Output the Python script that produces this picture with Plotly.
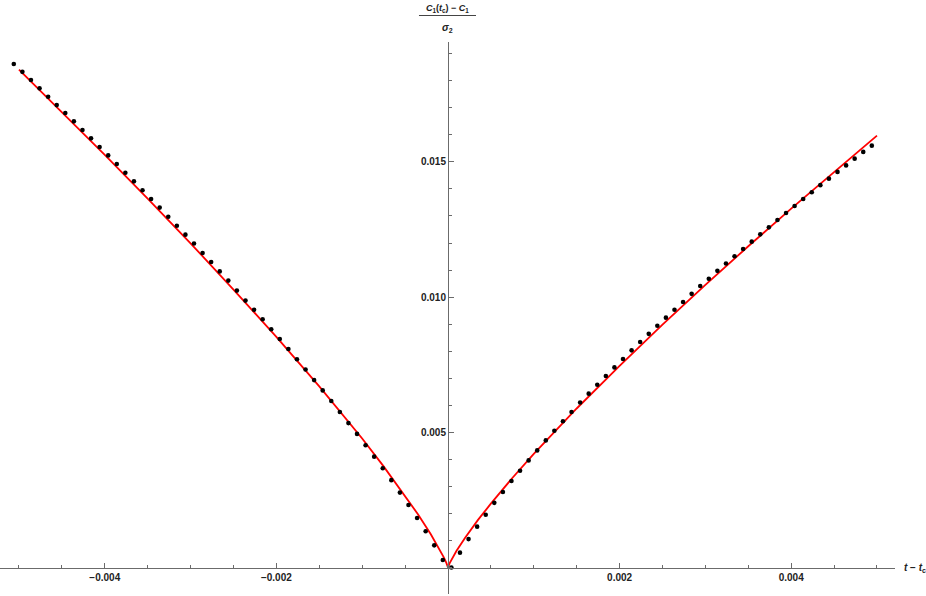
import plotly.graph_objects as go

# simulated points (t - t_c, value)
x_data = [
    -0.00506, -0.00496, -0.00486, -0.00476, -0.00466, -0.00456, -0.00446, -0.00436, -0.00426, -0.00416,
    -0.00406, -0.00396, -0.00386, -0.00376, -0.00366, -0.00356, -0.00346, -0.00336, -0.00326, -0.00316,
    -0.00306, -0.00296, -0.00286, -0.00276, -0.00266, -0.00256, -0.00246, -0.00236, -0.00226, -0.00216,
    -0.00206, -0.00196, -0.00186, -0.00176, -0.00166, -0.00156, -0.00146, -0.00136, -0.00126, -0.00116,
    -0.00106, -0.00096, -0.00086, -0.00076, -0.00066, -0.00056, -0.00046, -0.00036, -0.00026, -0.00016,
    -0.00006, 0.00004, 0.00014, 0.00024, 0.00034, 0.00044, 0.00054, 0.00064, 0.00074, 0.00084,
    0.00094, 0.00104, 0.00114, 0.00124, 0.00134, 0.00144, 0.00154, 0.00164, 0.00174, 0.00184,
    0.00194, 0.00204, 0.00214, 0.00224, 0.00234, 0.00244, 0.00254, 0.00264, 0.00274, 0.00284,
    0.00294, 0.00304, 0.00314, 0.00324, 0.00334, 0.00344, 0.00354, 0.00364, 0.00374, 0.00384,
    0.00394, 0.00404, 0.00414, 0.00424, 0.00434, 0.00444, 0.00454, 0.00464, 0.00474, 0.00484,
    0.00494,
]
y_data = [
    0.01862, 0.01833, 0.01803, 0.01772, 0.01741, 0.01710, 0.01681, 0.01650, 0.01618, 0.01587,
    0.01555, 0.01524, 0.01492, 0.01460, 0.01428, 0.01395, 0.01363, 0.01331, 0.01297, 0.01264,
    0.01231, 0.01198, 0.01163, 0.01130, 0.01095, 0.01061, 0.01024, 0.00987, 0.00953, 0.00918,
    0.00881, 0.00845, 0.00808, 0.00770, 0.00732, 0.00693, 0.00655, 0.00616, 0.00575, 0.00534,
    0.00494, 0.00452, 0.00410, 0.00367, 0.00323, 0.00277, 0.00231, 0.00183, 0.00134, 0.00082,
    0.00028, 0.00000, 0.00055, 0.00105, 0.00151, 0.00195, 0.00239, 0.00279, 0.00320, 0.00358,
    0.00396, 0.00433, 0.00470, 0.00506, 0.00541, 0.00575, 0.00610, 0.00643, 0.00676, 0.00708,
    0.00740, 0.00771, 0.00803, 0.00834, 0.00864, 0.00894, 0.00924, 0.00953, 0.00982, 0.01012,
    0.01041, 0.01068, 0.01097, 0.01124, 0.01151, 0.01178, 0.01205, 0.01232, 0.01258, 0.01285,
    0.01311, 0.01337, 0.01363, 0.01388, 0.01414, 0.01438, 0.01463, 0.01487, 0.01512, 0.01537,
    0.01560,
]

# fitted curve
fit_x = [
    -0.005, -0.0045, -0.004, -0.0035, -0.003, -0.0025, -0.002, -0.0015, -0.001, -0.00075,
    -0.0005, -0.00035, -0.0002, -0.0001, -0.00005, -0.00002, 0.0,
    0.00002, 0.00005, 0.0001, 0.0002, 0.00035, 0.0005, 0.00075, 0.001, 0.0015,
    0.002, 0.0025, 0.003, 0.0035, 0.004, 0.0045, 0.005,
]
fit_y = [
    0.01841, 0.01685, 0.01526, 0.01364, 0.01199, 0.01028, 0.00853, 0.00670, 0.00477, 0.00374,
    0.00266, 0.00197, 0.00123, 0.000688, 0.000385, 0.000178, 0.0,
    0.000163, 0.000350, 0.000621, 0.00110, 0.00176, 0.00236, 0.00331, 0.00420, 0.00588,
    0.00746, 0.00898, 0.01045, 0.01188, 0.01327, 0.01463, 0.01597,
]

x_tickvals = [-0.004, -0.002, 0.002, 0.004]
x_ticktext = ["\u22120.004", "\u22120.002", "0.002", "0.004"]
y_tickvals = [0.005, 0.010, 0.015]
y_ticktext = ["0.005", "0.010", "0.015"]

x_range = [-0.005221, 0.005210]
y_range = [-0.00098, 0.019434]

AX = "#6b6b6b"
FONT = "Liberation Sans, Arial, sans-serif"

fig = go.Figure()
fig.add_trace(go.Scatter(x=fit_x, y=fit_y, mode="lines",
                         line=dict(color="#ff0000", width=1.8), hoverinfo="skip"))
fig.add_trace(go.Scatter(x=x_data, y=y_data, mode="markers",
                         marker=dict(color="#000000", size=4.6, line=dict(width=0))))

xpos = (0 - y_range[0]) / (y_range[1] - y_range[0])
ypos = (0 - x_range[0]) / (x_range[1] - x_range[0])

fig.update_layout(
    width=926, height=596,
    margin=dict(l=0, r=31, t=42, b=2, autoexpand=False),
    paper_bgcolor="white", plot_bgcolor="white",
    showlegend=False,
    xaxis=dict(range=x_range, showgrid=False, zeroline=False, automargin=False,
               showline=True, linecolor=AX, linewidth=1,
               anchor="free", position=xpos,
               tickmode="array", tickvals=x_tickvals, ticktext=x_ticktext,
               ticks="inside", ticklen=5, tickcolor=AX, tickwidth=1,
               tickfont=dict(family=FONT, size=10, color="#222222", weight="bold"),
               minor=dict(tickmode="linear", tick0=0, dtick=0.0005, ticks="inside",
                          ticklen=3, tickcolor=AX, tickwidth=1, showgrid=False)),
    yaxis=dict(range=y_range, showgrid=False, zeroline=False, automargin=False,
               showline=True, linecolor=AX, linewidth=1,
               anchor="free", position=ypos,
               tickmode="array", tickvals=y_tickvals, ticktext=y_ticktext,
               ticks="inside", ticklen=5, tickcolor=AX, tickwidth=1,
               tickfont=dict(family=FONT, size=10, color="#222222", weight="bold"),
               minor=dict(tickmode="linear", tick0=0, dtick=0.001, ticks="inside",
                          ticklen=3, tickcolor=AX, tickwidth=1, showgrid=False)),
)

# x-axis label
fig.add_annotation(x=1.0078, y=xpos, xref="paper", yref="paper", xanchor="left", yanchor="middle",
                   text="<b><i>t</i> \u2212 <i>t</i><sub>c</sub></b>", showarrow=False,
                   font=dict(family=FONT, size=10, color="#222222"))
# y-axis label (fraction)
fig.add_annotation(x=ypos, y=1.0598, xref="paper", yref="paper", xanchor="center", yanchor="middle",
                   text="<b><i>C</i><sub>1</sub>(<i>t</i><sub>c</sub>) \u2212 <i>C</i><sub>1</sub></b>",
                   showarrow=False, font=dict(family=FONT, size=9, color="#222222"))
fig.add_shape(type="line", xref="paper", yref="paper", x0=ypos - 0.0324, x1=ypos + 0.0313,
              y0=1.048, y1=1.048, line=dict(color="#444444", width=1))
fig.add_annotation(x=ypos, y=1.0254, xref="paper", yref="paper", xanchor="center", yanchor="middle",
                   text="<b><i>\u03c3</i><sub>2</sub></b>", showarrow=False,
                   font=dict(family=FONT, size=10, color="#222222"))

fig.write_html("out.html", config={"displayModeBar": False},
               post_script="document.body.style.margin='0';document.body.style.padding='0';")
